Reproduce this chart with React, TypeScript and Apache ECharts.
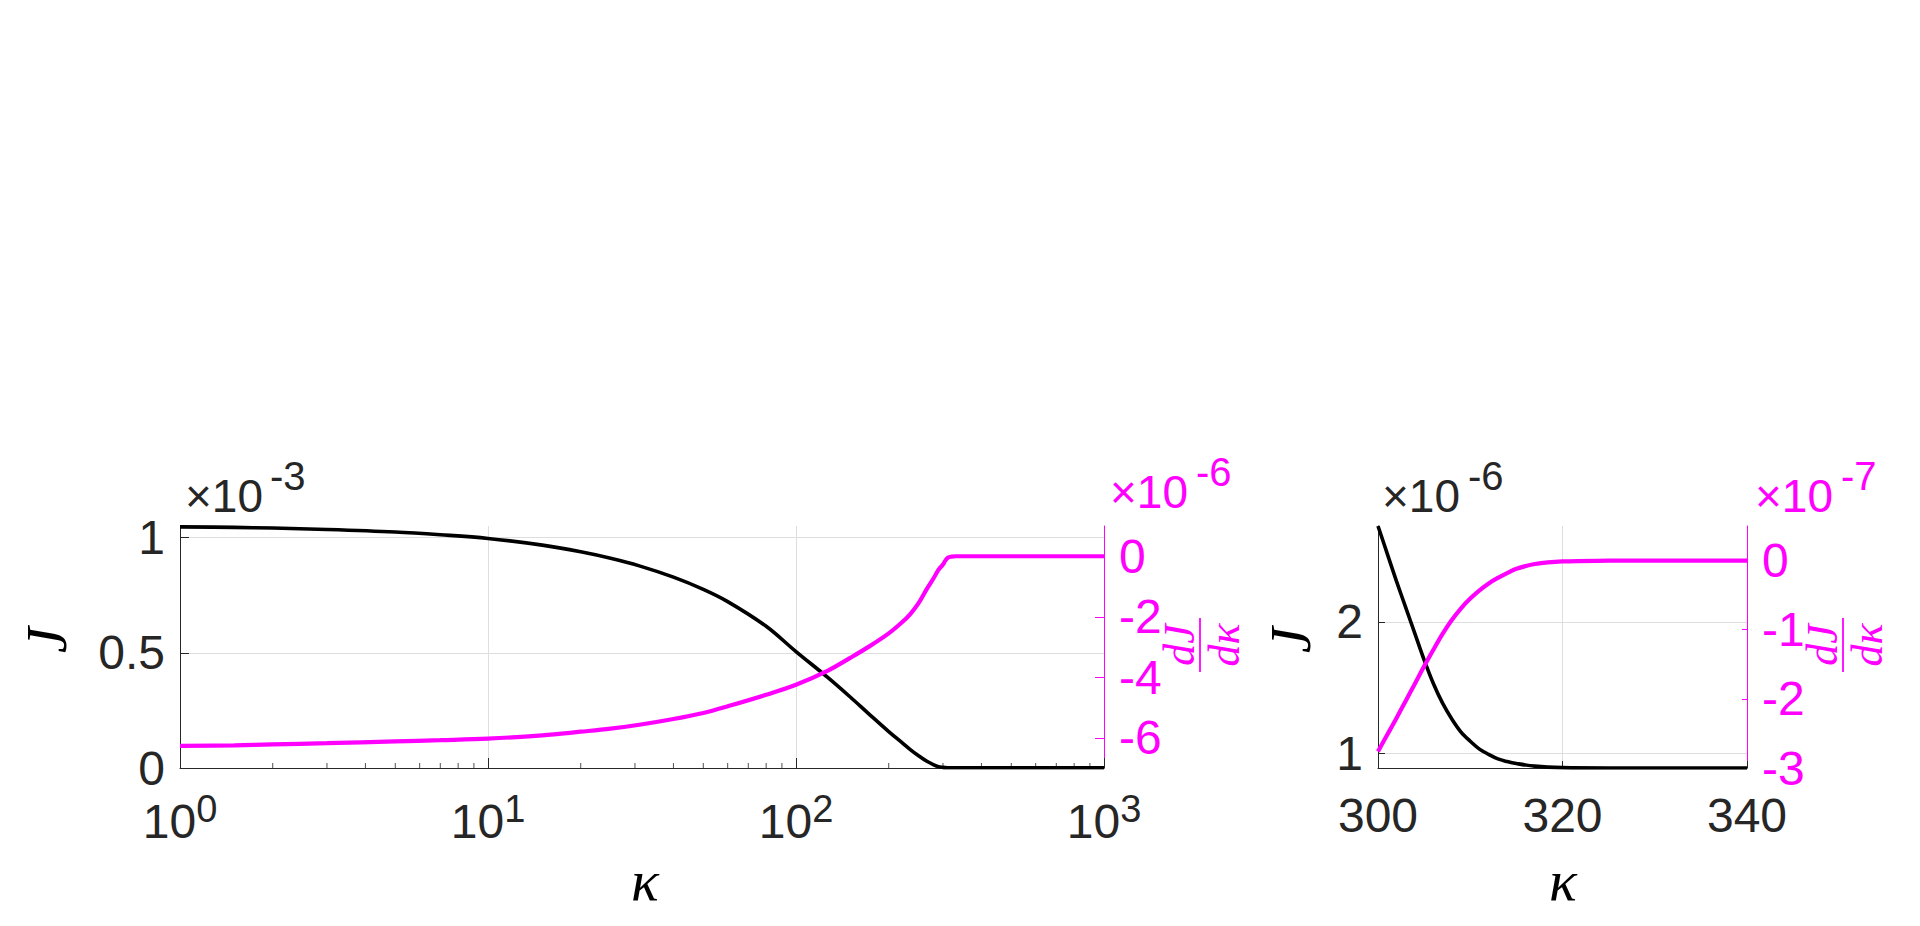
import React, { useEffect, useRef } from 'react';
import * as echarts from 'echarts';

// ---------- data (as displayed on the axes) ----------
// Left panel: kappa on a log axis, J in units of 1e-3, dJ/dkappa in units of 1e-6
const kappaMain = [1, 1.5, 2, 3, 5, 7, 10, 15, 20, 25, 31, 40, 50, 60, 80, 100, 127, 150, 173, 200, 220, 235, 250, 266, 280, 290, 300, 305, 311, 320, 330, 400, 600, 1000];
const jMain = [1.046, 1.044, 1.041, 1.035, 1.024, 1.012, 0.996, 0.967, 0.938, 0.91, 0.877, 0.828, 0.775, 0.722, 0.615, 0.505, 0.392, 0.308, 0.233, 0.158, 0.112, 0.08, 0.053, 0.029, 0.014, 0.006, 0.0027, 0.0017, 0.0011, 0.0009, 0.0009, 0.0009, 0.0009, 0.0009];
const dJMain = [-6.27, -6.25, -6.22, -6.18, -6.12, -6.08, -6.03, -5.92, -5.8, -5.7, -5.57, -5.38, -5.18, -4.96, -4.58, -4.25, -3.78, -3.36, -2.98, -2.55, -2.2, -1.91, -1.55, -1.08, -0.72, -0.45, -0.276, -0.153, -0.05, -0.012, 0, 0, 0, 0];

// Right panel: kappa 300..340, J in units of 1e-6, dJ/dkappa in units of 1e-7
const kappaZoom = [300, 301, 302, 303, 304, 305, 306, 307, 308, 309, 310, 311, 312, 313, 314, 315, 317, 320, 325, 330, 340];
const jZoom = [2.73, 2.52, 2.31, 2.11, 1.91, 1.71, 1.53, 1.38, 1.26, 1.16, 1.09, 1.03, 0.99, 0.955, 0.935, 0.92, 0.9, 0.889, 0.886, 0.886, 0.886];
const dJZoom = [-2.76, -2.52, -2.28, -2.03, -1.78, -1.53, -1.29, -1.06, -0.86, -0.69, -0.55, -0.43, -0.33, -0.25, -0.18, -0.12, -0.05, -0.012, -0.002, 0, 0];

// tick values
const leftJTicks = [0, 0.5, 1];
const leftDJTicks = [-6, -4, -2, 0];
const zoomJTicks = [1, 2];
const zoomDJTicks = [-3, -2, -1, 0];
const logMinorTicks: number[] = [];
[1, 10, 100].forEach((d) => {
  for (let m = 2; m <= 9; m++) logMinorTicks.push(m * d);
});

// ---------- styling ----------
const FONT = '"Liberation Sans", Arial, Helvetica, sans-serif';
const SERIF = '"Liberation Serif", "DejaVu Serif", serif';
const BLACK = '#262626';
const MAGENTA = '#FF00FF';
const GRIDC = '#dedede';

const zip = (a: number[], b: number[]) => a.map((v, i) => [v, b[i]]);

function yAxis(gridIndex: number, position: string, min: number, max: number, ticks: number[], color: string, split: boolean, tickLen: number) {
  return {
    type: 'value',
    gridIndex,
    position,
    min,
    max,
    axisLine: { show: true, onZero: false, lineStyle: { color, width: 1 } },
    axisTick: { show: true, inside: true, length: tickLen, customValues: ticks, lineStyle: { color, width: 1 } },
    axisLabel: { show: true, customValues: ticks, color, fontSize: 48, fontFamily: FONT, margin: 15 },
    splitLine: { show: split, lineStyle: { color: GRIDC, width: 1 } },
  };
}

function expLabel(x: number, y: number, exp: string, color: string, supX: number) {
  return [
    { type: 'text', x, y, style: { text: '×10', fill: color, fontSize: 46, fontFamily: FONT, align: 'left', verticalAlign: 'middle' } },
    { type: 'text', x: supX, y: y - 20, style: { text: exp, fill: color, fontSize: 40, fontFamily: FONT, align: 'left', verticalAlign: 'middle' } },
  ];
}

function fraction(x: number, y: number) {
  return {
    type: 'group',
    x,
    y,
    rotation: Math.PI / 2,
    children: [
      { type: 'text', x: 0, y: -21, style: { text: 'dJ', fill: MAGENTA, fontSize: 44, fontStyle: 'italic', fontFamily: SERIF, align: 'center', verticalAlign: 'middle' } },
      { type: 'line', shape: { x1: -27, y1: 0, x2: 27, y2: 0 }, style: { stroke: MAGENTA, lineWidth: 1.8 } },
      { type: 'text', x: 0, y: 24, style: { text: 'dκ', fill: MAGENTA, fontSize: 44, fontStyle: 'italic', fontFamily: SERIF, align: 'center', verticalAlign: 'middle' } },
    ],
  };
}

function axisName(text: string, x: number, y: number, rotate: boolean) {
  return {
    type: 'text',
    x,
    y,
    rotation: rotate ? Math.PI / 2 : 0,
    style: { text, fill: '#000', fontSize: 58, fontStyle: 'italic', fontFamily: SERIF, align: 'center', verticalAlign: 'middle' },
  };
}

const lineCommon = { showSymbol: false, smooth: 0.35, silent: true };

const option: any = {
  animation: false,
  backgroundColor: '#ffffff',
  grid: [
    { left: 180, top: 526, width: 924, height: 242, outerBoundsMode: 'none' },
    { left: 1378, top: 526, width: 369, height: 242, outerBoundsMode: 'none' },
  ],
  xAxis: [
    {
      type: 'log',
      logBase: 10,
      gridIndex: 0,
      min: 1,
      max: 1000,
      axisLine: { show: true, onZero: false, lineStyle: { color: BLACK, width: 1 } },
      axisTick: { show: true, inside: true, length: 10, lineStyle: { color: BLACK } },
      axisLabel: {
        margin: 22,
        color: BLACK,
        fontFamily: FONT,
        formatter: (v: number) => `{b|10}{s|${Math.round(Math.log10(v))}}`,
        rich: {
          b: { fontSize: 48, fontFamily: FONT, color: BLACK },
          s: { fontSize: 38, fontFamily: FONT, color: BLACK, padding: [0, 0, 24, 0] },
        },
      },
      splitLine: { show: true, lineStyle: { color: GRIDC, width: 1 } },
    },
    {
      type: 'value',
      gridIndex: 1,
      min: 300,
      max: 340,
      interval: 20,
      axisLine: { show: true, onZero: false, lineStyle: { color: BLACK, width: 1 } },
      axisTick: { show: true, inside: true, length: 7, lineStyle: { color: BLACK } },
      axisLabel: { margin: 23, color: BLACK, fontSize: 48, fontFamily: FONT },
      splitLine: { show: true, lineStyle: { color: GRIDC, width: 1 } },
    },
  ],
  yAxis: [
    yAxis(0, 'left', 0, 1.05, leftJTicks, BLACK, true, 9),
    yAxis(0, 'right', -7, 1, leftDJTicks, MAGENTA, false, 9),
    yAxis(1, 'left', 0.886, 2.73, zoomJTicks, BLACK, true, 7),
    yAxis(1, 'right', -3, 0.5, zoomDJTicks, MAGENTA, false, 5),
  ],
  series: [
    {
      type: 'line', xAxisIndex: 0, yAxisIndex: 0, data: zip(kappaMain, jMain), ...lineCommon,
      lineStyle: { color: '#000', width: 3.6 }, itemStyle: { color: '#000' },
    },
    {
      type: 'line', xAxisIndex: 0, yAxisIndex: 1, data: zip(kappaMain, dJMain), ...lineCommon,
      lineStyle: { color: MAGENTA, width: 4.2 }, itemStyle: { color: MAGENTA },
    },
    {
      type: 'scatter', xAxisIndex: 0, yAxisIndex: 0, data: logMinorTicks.map((k) => [k, 0]),
      symbol: 'rect', symbolSize: [1, 5], symbolOffset: [0, -2.5], itemStyle: { color: BLACK }, silent: true, z: 1,
    },
    {
      type: 'line', xAxisIndex: 1, yAxisIndex: 2, data: zip(kappaZoom, jZoom), ...lineCommon,
      lineStyle: { color: '#000', width: 3.6 }, itemStyle: { color: '#000' },
    },
    {
      type: 'line', xAxisIndex: 1, yAxisIndex: 3, data: zip(kappaZoom, dJZoom), ...lineCommon,
      lineStyle: { color: MAGENTA, width: 4.2 }, itemStyle: { color: MAGENTA },
    },
  ],
  graphic: [
    ...expLabel(185, 496, '-3', BLACK, 270),
    ...expLabel(1110, 492, '-6', MAGENTA, 1196),
    ...expLabel(1382, 496, '-6', BLACK, 1468),
    ...expLabel(1755, 496, '-7', MAGENTA, 1841),
    axisName('J', 46, 640, true),
    axisName('J', 1290, 640, true),
    axisName('κ', 645, 880, false),
    axisName('κ', 1563, 880, false),
    fraction(1200, 645),
    fraction(1843, 645),
  ],
};

export default function App() {
  const ref = useRef<HTMLDivElement>(null);
  useEffect(() => {
    const chart = echarts.init(ref.current as HTMLDivElement, null, { renderer: 'svg' });
    chart.setOption(option);
    return () => chart.dispose();
  }, []);
  return (
    <div
      ref={ref}
      style={{ position: 'fixed', left: 0, top: 0, width: 1920, height: 926, background: '#ffffff' }}
    />
  );
}
